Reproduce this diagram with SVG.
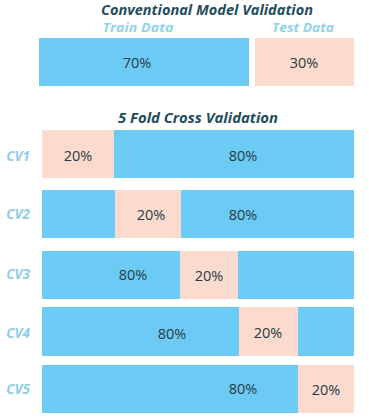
<svg xmlns="http://www.w3.org/2000/svg" width="369" height="420" viewBox="0 0 369 420">
<style>
.train{fill:#6ccbf5}
.test{fill:#fadbcd}
.pct{font-family:"Open Sans","DejaVu Sans",sans-serif;font-size:14.5px;fill:#2a3a44;text-anchor:middle;dominant-baseline:central}
.title{font-family:"Open Sans","DejaVu Sans",sans-serif;font-weight:bold;font-style:italic;font-size:14px;fill:#1e4d5c;text-anchor:middle}
.sub{font-family:"Open Sans","DejaVu Sans",sans-serif;font-weight:bold;font-style:italic;font-size:12.5px;fill:#8fd3ea;text-anchor:middle}
.cv{font-family:"Open Sans","DejaVu Sans",sans-serif;font-weight:bold;font-style:italic;font-size:13.5px;fill:#8fcde3;text-anchor:middle;dominant-baseline:central}
</style>
<rect width="369" height="420" fill="#ffffff"/>
<g id="header">
<text class="title" x="207" y="15" textLength="212" lengthAdjust="spacingAndGlyphs">Conventional Model Validation</text>
<text class="sub" x="138" y="32" textLength="71" lengthAdjust="spacingAndGlyphs">Train Data</text>
<text class="sub" x="303" y="32" textLength="62" lengthAdjust="spacingAndGlyphs">Test Data</text>
</g>
<g id="conventional">
<rect class="train" x="39" y="38" width="210" height="48"/>
<text class="pct" x="137" y="62">70%</text>
<rect class="test" x="255" y="38" width="99" height="48"/>
<text class="pct" x="304" y="62">30%</text>
</g>
<g id="cv-title">
<text class="title" x="198" y="123" textLength="160" lengthAdjust="spacingAndGlyphs">5 Fold Cross Validation</text>
</g>
<g id="cv1">
<text class="cv" x="18" y="156">CV1</text>
<rect class="test" x="42" y="130" width="72" height="48"/>
<rect class="train" x="114" y="130" width="240" height="48"/>
<text class="pct" x="78" y="155">20%</text>
<text class="pct" x="243" y="155">80%</text>
</g>
<g id="cv2">
<text class="cv" x="18" y="214">CV2</text>
<rect class="train" x="42" y="190" width="73" height="48"/>
<rect class="test" x="115" y="190" width="66" height="48"/>
<rect class="train" x="181" y="190" width="173" height="48"/>
<text class="pct" x="151" y="214">20%</text>
<text class="pct" x="243" y="214">80%</text>
</g>
<g id="cv3">
<text class="cv" x="18" y="274">CV3</text>
<rect class="train" x="42" y="251" width="138" height="48"/>
<rect class="test" x="180" y="251" width="58" height="48"/>
<rect class="train" x="238" y="251" width="116" height="48"/>
<text class="pct" x="133" y="274">80%</text>
<text class="pct" x="209" y="275">20%</text>
</g>
<g id="cv4">
<text class="cv" x="18" y="333">CV4</text>
<rect class="train" x="42" y="307" width="197" height="49"/>
<rect class="test" x="239" y="307" width="59" height="49"/>
<rect class="train" x="298" y="307" width="56" height="49"/>
<text class="pct" x="172" y="333">80%</text>
<text class="pct" x="268" y="332">20%</text>
</g>
<g id="cv5">
<text class="cv" x="18" y="389">CV5</text>
<rect class="train" x="42" y="365" width="256" height="48"/>
<rect class="test" x="298" y="365" width="56" height="48"/>
<text class="pct" x="243" y="388">80%</text>
<text class="pct" x="326" y="389">20%</text>
</g>
<g id="connectors"></g>
</svg>
